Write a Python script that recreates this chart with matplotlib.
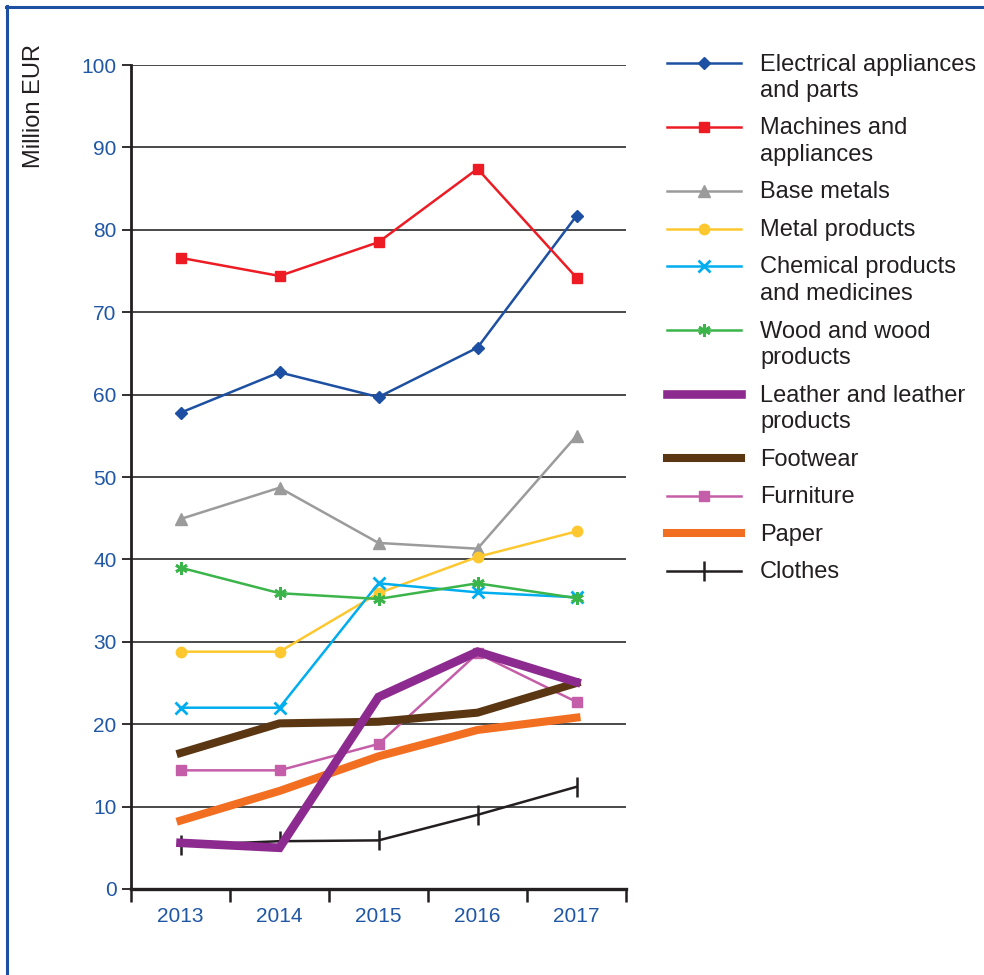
import matplotlib
matplotlib.use('Agg')
import matplotlib.pyplot as plt
from matplotlib.lines import Line2D
import numpy as np

plt.rcParams['font.family'] = ['Liberation Sans', 'DejaVu Sans']

years = ['2013', '2014', '2015', '2016', '2017']

# values, million EUR
electrical = [57.8, 62.7, 59.7, 65.7, 81.7]
machines = [76.6, 74.4, 78.5, 87.4, 74.2]
base_metals = [44.9, 48.7, 42.0, 41.3, 55.0]
metal_products = [28.8, 28.8, 35.9, 40.3, 43.4]
chemical = [22.0, 22.0, 37.1, 36.0, 35.4]
wood = [39.0, 35.9, 35.2, 37.1, 35.3]
leather = [5.6, 5.0, 23.3, 28.8, 25.1]
footwear = [16.5, 20.1, 20.3, 21.4, 25.0]
furniture = [14.4, 14.4, 17.6, 28.6, 22.7]
paper = [8.3, 11.9, 16.1, 19.3, 20.8]
clothes = [5.3, 5.8, 5.9, 9.0, 12.4]

labels = ['Electrical appliances\nand parts', 'Machines and\nappliances', 'Base metals',
          'Metal products', 'Chemical products\nand medicines', 'Wood and wood\nproducts',
          'Leather and leather\nproducts', 'Footwear', 'Furniture', 'Paper', 'Clothes']
series = [electrical, machines, base_metals, metal_products, chemical, wood,
          leather, footwear, furniture, paper, clothes]

# style per series: colour, line width, marker, marker size, marker edge width
styles = [
    ('#1d50a2', 1.8, 'D', 6.5, 1.0),
    ('#ed1c24', 1.8, 's', 7.5, 1.0),
    ('#9b9b9b', 1.8, '^', 9, 1.0),
    ('#fdc82f', 1.8, 'o', 7.5, 1.0),
    ('#00aeef', 1.8, 'x', 8, 2.0),
    ('#3bb44a', 1.8, (6, 2, 0), 9, 2.0),
    ('#8d2a8f', 6.2, None, 0, 0),
    ('#5b3613', 5.8, None, 0, 0),
    ('#c55ea8', 1.8, 's', 7.5, 1.0),
    ('#f26f21', 5.8, None, 0, 0),
    ('#231f20', 1.8, '|', 14, 1.8),
]
draw_order = [0, 1, 2, 3, 4, 5, 10, 9, 8, 7, 6]

W, H = 984, 975
fig = plt.figure(figsize=(W / 100, H / 100), dpi=100)
ax = fig.add_axes([131 / W, 1 - 889 / H, (626 - 131) / W, (889 - 65) / H])

x = np.arange(len(years)) + 0.5
for i in draw_order:
    c, lw, m, ms, mew = styles[i]
    ax.plot(x, series[i], color=c, lw=lw, marker=m, markersize=ms,
            markeredgewidth=mew, markeredgecolor=c, markerfacecolor=c,
            solid_joinstyle='miter', zorder=3 + draw_order.index(i))

ax.set_xlim(0, 5)
ax.set_ylim(0, 100)
ax.set_yticks(np.arange(0, 101, 10))
ax.yaxis.grid(True, color='#3a3a3a', lw=1.3)
ax.set_axisbelow(True)
ax.tick_params(axis='y', length=6.5, width=1.3, color='#231f20', pad=4,
               labelsize=15, labelcolor='#1f57a5')

ax.set_xticks(x)
ax.set_xticklabels(years)
ax.set_xticks(np.arange(0, 6), minor=True)
ax.tick_params(axis='x', which='major', length=0, pad=13, labelsize=15, labelcolor='#1f57a5')
ax.tick_params(axis='x', which='minor', length=9.5, width=1.8, color='#231f20')

for s in ['top', 'right']:
    ax.spines[s].set_visible(False)
ax.spines['left'].set_linewidth(2.0)
ax.spines['left'].set_color('#231f20')
ax.spines['bottom'].set_linewidth(2.4)
ax.spines['bottom'].set_color('#231f20')

fig.text(34 / W, 1 - 106 / H, 'Million EUR', rotation=90, ha='center', va='center',
         fontsize=17, color='#231f20')

# legend drawn by hand so each handle sits on the first line of its label
ly = 63
for i, lab in enumerate(labels):
    c, lw, m, ms, mew = styles[i]
    yf = 1 - ly / H
    fig.add_artist(Line2D([667 / W, 741 / W], [yf, yf], color=c, lw=lw))
    if m is not None:
        fig.add_artist(Line2D([704 / W], [yf], marker=m, markersize=ms, markeredgewidth=mew,
                              color=c, markeredgecolor=c, markerfacecolor=c))
    lines = lab.split('\n')
    for k, t in enumerate(lines):
        fig.text(760 / W, 1 - (ly + 7.5 + 26.5 * k) / H, t, ha='left', va='baseline',
                 fontsize=17, color='#231f20')
    ly += 37.5 + 26.5 * (len(lines) - 1)

# blue frame (left and top only)
fig.add_artist(Line2D([7 / W, 7 / W], [0, 1 - 6 / H], color='#1d50a2', lw=2.2))
fig.add_artist(Line2D([6 / W, 1], [1 - 7 / H, 1 - 7 / H], color='#1d50a2', lw=2.2))

fig.savefig('out.png', dpi=100)
